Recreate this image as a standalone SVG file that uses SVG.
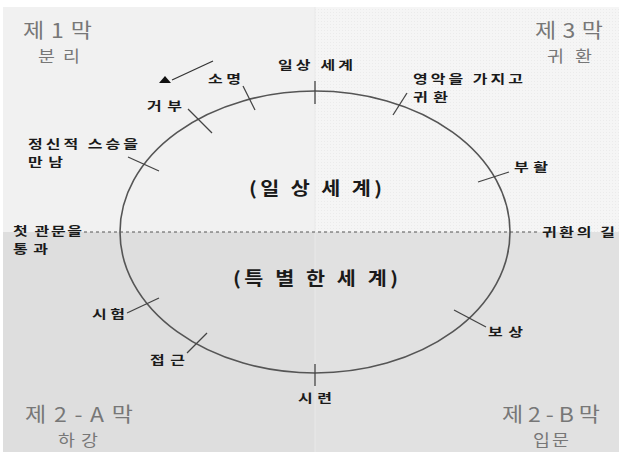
<svg xmlns="http://www.w3.org/2000/svg" width="619" height="455" viewBox="0 0 619 455">
<defs>
<pattern id="dots" width="3" height="3" patternUnits="userSpaceOnUse">
<rect width="3" height="3" fill="#f5f5f5"/>
<rect width="1" height="1" fill="#ebebeb"/>
</pattern>
<style>
.act{font-family:"Noto Sans CJK KR","Noto Sans",sans-serif;font-size:20px;fill:#777;}
.sub{font-family:"Noto Sans CJK KR","Noto Sans",sans-serif;font-size:16px;fill:#777;}
.lbl{font-family:"Noto Sans CJK KR","Noto Sans",sans-serif;font-size:12.5px;font-weight:bold;fill:#1a1a1a;}
.big{font-family:"Noto Sans CJK KR","Noto Sans",sans-serif;font-size:18px;font-weight:bold;fill:#1a1a1a;}
.tick{stroke:#444;stroke-width:1.3;fill:none;}
</style>
</defs>
<rect width="619" height="455" fill="#ffffff"/>
<g id="background">
<rect x="3" y="7" width="312" height="225" fill="#f1f1f1"/>
<rect x="315" y="7" width="304" height="225" fill="url(#dots)"/>
<rect x="3" y="232" width="312" height="220" fill="#dedede"/>
<rect x="315" y="232" width="304" height="220" fill="#e1e1e1"/>
<line x1="315" y1="7" x2="315" y2="452" stroke="#e9e9e9" stroke-width="1"/>
</g>
<g id="connectors">
<line x1="84" y1="232" x2="540" y2="232" stroke="#555" stroke-width="1" stroke-dasharray="3,3"/>
<ellipse cx="315" cy="232" rx="195" ry="141" fill="none" stroke="#555" stroke-width="1.6"/>
<line class="tick" x1="315" y1="81" x2="315" y2="104"/>
<line class="tick" x1="243" y1="86" x2="255" y2="110"/>
<line class="tick" x1="188" y1="109" x2="212" y2="133"/>
<line class="tick" x1="128" y1="157" x2="159" y2="171"/>
<line class="tick" x1="393" y1="115" x2="407" y2="93"/>
<line class="tick" x1="478" y1="182" x2="509" y2="172"/>
<line class="tick" x1="127" y1="313" x2="159" y2="298"/>
<line class="tick" x1="187" y1="353" x2="207" y2="333"/>
<line class="tick" x1="315" y1="364" x2="315" y2="386"/>
<line class="tick" x1="454" y1="310" x2="486" y2="327"/>
<line x1="213" y1="61" x2="172" y2="80" stroke="#333" stroke-width="1.3"/>
<polygon points="165,76 159,83 171,83" fill="#111"/>
</g>
<g id="act1"><text class="act" transform="translate(23,38) scale(1.15,1)" textLength="60" lengthAdjust="spacing">제1막</text><text class="sub" transform="translate(38,62) scale(1.15,1)" textLength="36.5" lengthAdjust="spacing">분리</text></g>
<g id="act3"><text class="act" transform="translate(535,38) scale(1.15,1)" textLength="59.1" lengthAdjust="spacing">제3막</text><text class="sub" transform="translate(547,62) scale(1.15,1)" textLength="39.1" lengthAdjust="spacing">귀환</text></g>
<g id="act2a"><text class="act" transform="translate(25,422) scale(1.15,1)" textLength="93.9" lengthAdjust="spacing">제2-A막</text><text class="sub" transform="translate(58,446) scale(1.15,1)" textLength="34.8" lengthAdjust="spacing">하강</text></g>
<g id="act2b"><text class="act" transform="translate(502,422) scale(1.15,1)" textLength="85.2" lengthAdjust="spacing">제2-B막</text><text class="sub" transform="translate(533,446) scale(1.15,1)" textLength="31.3" lengthAdjust="spacing">입문</text></g>
<g id="ordinary"><text class="big" transform="translate(249,195) scale(1.15,1)" textLength="115.7" lengthAdjust="spacing">(일 상 세 계)</text></g>
<g id="special"><text class="big" transform="translate(233,285) scale(1.15,1)" textLength="143.5" lengthAdjust="spacing">(특 별 한 세 계)</text></g>
<g id="n-ordinary"><text class="lbl" transform="translate(278,70) scale(1.28,1)" textLength="58.6" lengthAdjust="spacing">일상 세계</text></g>
<g id="n-call"><text class="lbl" transform="translate(208,84) scale(1.28,1)" textLength="25.8" lengthAdjust="spacing">소명</text></g>
<g id="n-refusal"><text class="lbl" transform="translate(147,111) scale(1.28,1)" textLength="27.3" lengthAdjust="spacing">거부</text></g>
<g id="n-mentor"><text class="lbl" transform="translate(28,149) scale(1.28,1)" textLength="85.9" lengthAdjust="spacing">정신적 스승을</text><text class="lbl" transform="translate(28,167) scale(1.28,1)" textLength="27.3" lengthAdjust="spacing">만남</text></g>
<g id="n-elixir"><text class="lbl" transform="translate(413,84) scale(1.28,1)" textLength="85.9" lengthAdjust="spacing">영악을 가지고</text><text class="lbl" transform="translate(413,102) scale(1.28,1)" textLength="27.3" lengthAdjust="spacing">귀환</text></g>
<g id="n-resurrection"><text class="lbl" transform="translate(514,172) scale(1.28,1)" textLength="26.6" lengthAdjust="spacing">부활</text></g>
<g id="n-threshold"><text class="lbl" transform="translate(13,236) scale(1.28,1)" textLength="53.9" lengthAdjust="spacing">첫 관문을</text><text class="lbl" transform="translate(13,254) scale(1.28,1)" textLength="27.3" lengthAdjust="spacing">통과</text></g>
<g id="n-roadback"><text class="lbl" transform="translate(542,237) scale(1.28,1)" textLength="57" lengthAdjust="spacing">귀환의 길</text></g>
<g id="n-tests"><text class="lbl" transform="translate(92,319) scale(1.28,1)" textLength="25.8" lengthAdjust="spacing">시험</text></g>
<g id="n-approach"><text class="lbl" transform="translate(150,365) scale(1.28,1)" textLength="27.3" lengthAdjust="spacing">접근</text></g>
<g id="n-ordeal"><text class="lbl" transform="translate(298,403) scale(1.28,1)" textLength="26.6" lengthAdjust="spacing">시련</text></g>
<g id="n-reward"><text class="lbl" transform="translate(488,337) scale(1.28,1)" textLength="27.3" lengthAdjust="spacing">보상</text></g>
</svg>
